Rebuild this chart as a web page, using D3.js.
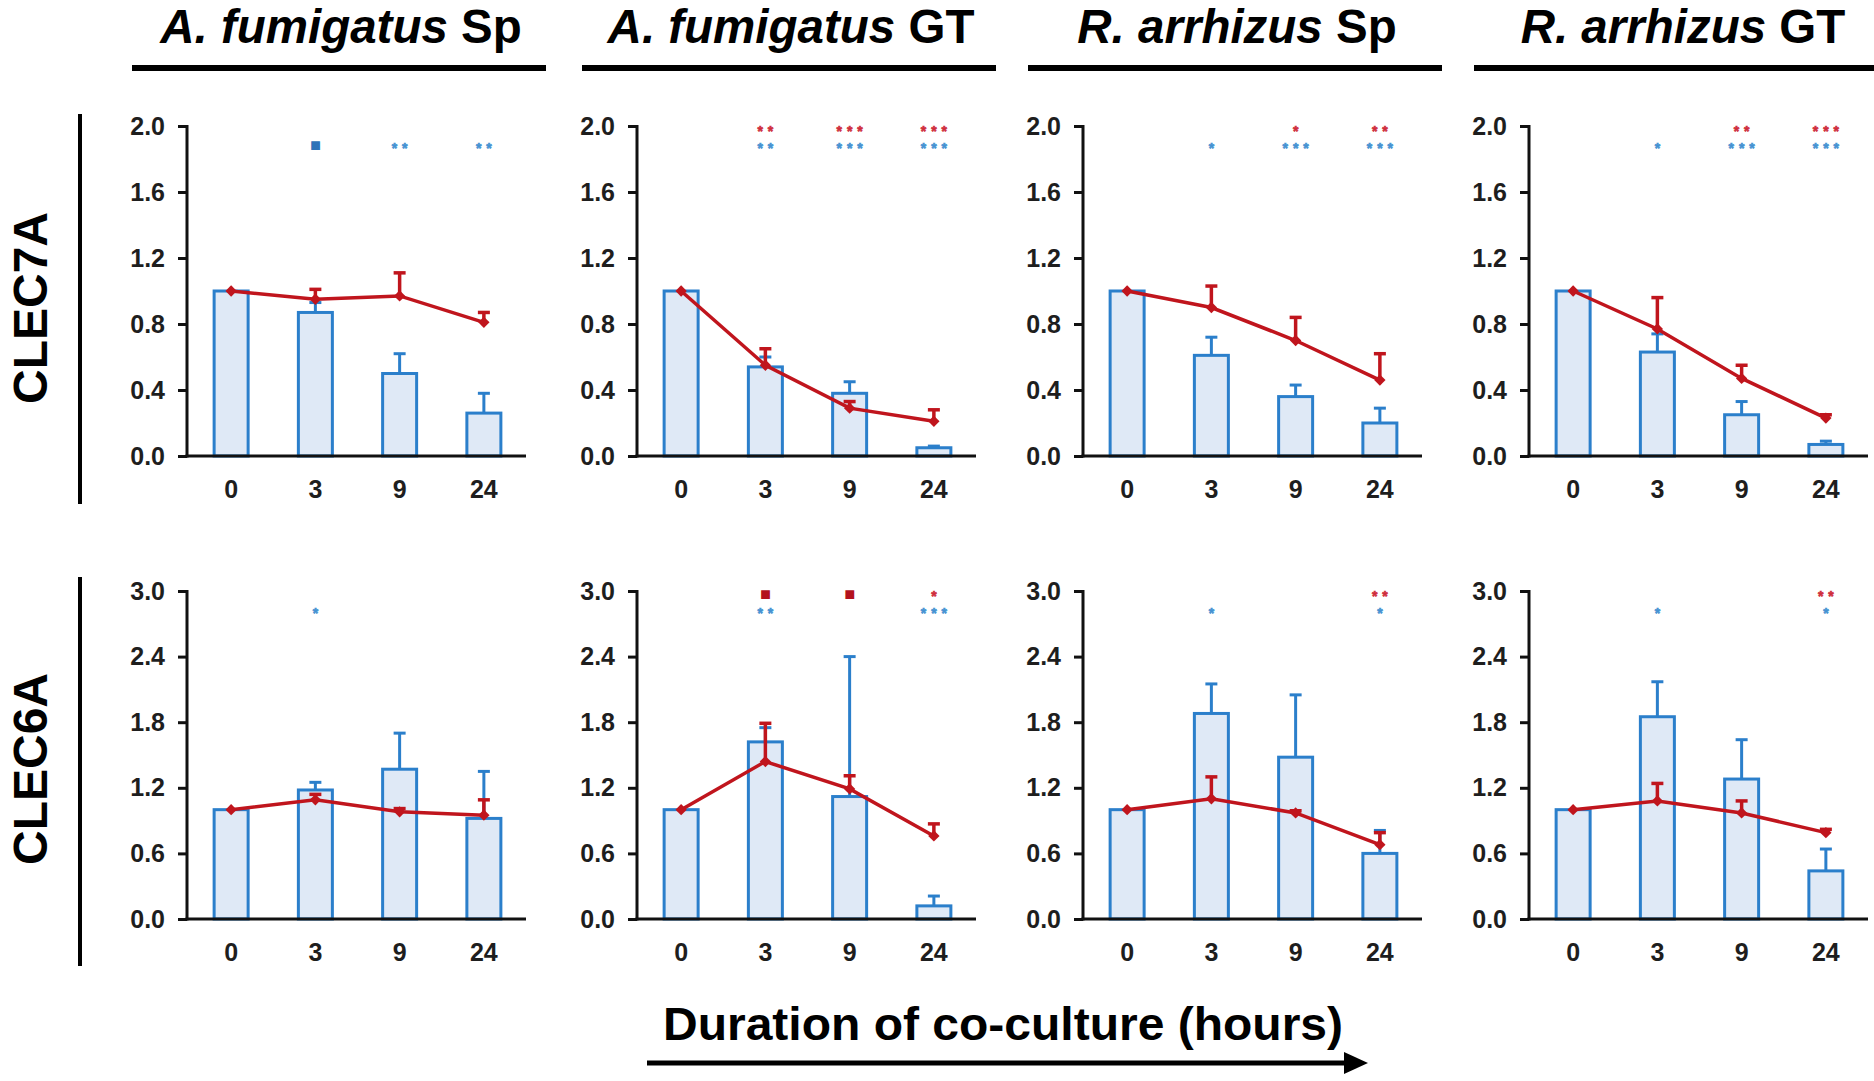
<!DOCTYPE html>
<html>
<head>
<meta charset="utf-8">
<script src="https://cdn.jsdelivr.net/npm/d3@7"></script>
<style>
  html, body { margin: 0; padding: 0; background: #fff; }
  svg { display: block; }
  text { font-family: "Liberation Sans", Arial, Helvetica, sans-serif; }
</style>
</head>
<body>
<svg id="chart" width="1874" height="1081"></svg>
<script>
// ---------------- DATA ----------------
const timepoints = ["0", "3", "9", "24"];
const speciesNames = ["A. fumigatus", "A. fumigatus", "R. arrhizus", "R. arrhizus"];
const stageNames = ["Sp", "GT", "Sp", "GT"];
const genes = ["CLEC7A", "CLEC6A"];
const xAxisTitle = "Duration of co-culture (hours)";

const yTicksCLEC7A = [0, 0.4, 0.8, 1.2, 1.6, 2.0];
const yTicksCLEC6A = [0, 0.6, 1.2, 1.8, 2.4, 3.0];
const yMaxCLEC7A = 2.0;
const yMaxCLEC6A = 3.0;

// bars (blue) : mean and upper error bar end, per column
const barMeanCLEC7A = [
  [1.00, 0.87, 0.50, 0.26],
  [1.00, 0.54, 0.38, 0.05],
  [1.00, 0.61, 0.36, 0.20],
  [1.00, 0.63, 0.25, 0.07]
];
const barErrCLEC7A = [
  [1.00, 0.93, 0.62, 0.38],
  [1.00, 0.60, 0.45, 0.06],
  [1.00, 0.72, 0.43, 0.29],
  [1.00, 0.74, 0.33, 0.09]
];
// line (red) : mean and upper error bar end
const lineMeanCLEC7A = [
  [1.00, 0.95, 0.97, 0.81],
  [1.00, 0.55, 0.29, 0.21],
  [1.00, 0.90, 0.70, 0.46],
  [1.00, 0.77, 0.47, 0.23]
];
const lineErrCLEC7A = [
  [1.00, 1.01, 1.11, 0.87],
  [1.00, 0.65, 0.33, 0.28],
  [1.00, 1.03, 0.84, 0.62],
  [1.00, 0.96, 0.55, 0.25]
];

const barMeanCLEC6A = [
  [1.00, 1.18, 1.37, 0.92],
  [1.00, 1.62, 1.12, 0.12],
  [1.00, 1.88, 1.48, 0.60],
  [1.00, 1.85, 1.28, 0.44]
];
const barErrCLEC6A = [
  [1.00, 1.25, 1.70, 1.35],
  [1.00, 1.75, 2.40, 0.21],
  [1.00, 2.15, 2.05, 0.81],
  [1.00, 2.17, 1.64, 0.64]
];
const lineMeanCLEC6A = [
  [1.00, 1.09, 0.98, 0.95],
  [1.00, 1.44, 1.19, 0.76],
  [1.00, 1.10, 0.97, 0.68],
  [1.00, 1.08, 0.97, 0.79]
];
const lineErrCLEC6A = [
  [1.00, 1.14, 1.01, 1.09],
  [1.00, 1.79, 1.31, 0.87],
  [1.00, 1.30, 0.99, 0.79],
  [1.00, 1.24, 1.08, 0.82]
];

// significance marks (red = line series, blue = bar series)
const redMarksCLEC7A = [
  ["", "", "", ""],
  ["", "**", "***", "***"],
  ["", "", "*", "**"],
  ["", "", "**", "***"]
];
const blueMarksCLEC7A = [
  ["", "■", "**", "**"],
  ["", "**", "***", "***"],
  ["", "*", "***", "***"],
  ["", "*", "***", "***"]
];
const redMarksCLEC6A = [
  ["", "", "", ""],
  ["", "■", "■", "*"],
  ["", "", "", "**"],
  ["", "", "", "**"]
];
const blueMarksCLEC6A = [
  ["", "*", "", ""],
  ["", "**", "", "***"],
  ["", "*", "", "*"],
  ["", "*", "", "*"]
];

// ---------------- LAYOUT ----------------
const svg = d3.select("#chart");
const panelX0 = [187, 637, 1083, 1529];
const rowTop = [126, 591];
const rowBottom = [456, 919];
const plotW = 339;

const BLUE = "#2b7fcb";
const BLUE_FILL = "#dfe9f6";
const BLUE_STAR = "#4592d2";
const RED = "#c0151d";
const RED_STAR = "#cf2d3c";
const AXIS = "#111";
const FONT = "'Liberation Sans', Arial, sans-serif";
const STAR_FONT = "'DejaVu Sans', sans-serif";

const rows = [
  { gene: genes[0], ticks: yTicksCLEC7A, max: yMaxCLEC7A, barMean: barMeanCLEC7A, barErr: barErrCLEC7A,
    lineMean: lineMeanCLEC7A, lineErr: lineErrCLEC7A, red: redMarksCLEC7A, blue: blueMarksCLEC7A },
  { gene: genes[1], ticks: yTicksCLEC6A, max: yMaxCLEC6A, barMean: barMeanCLEC6A, barErr: barErrCLEC6A,
    lineMean: lineMeanCLEC6A, lineErr: lineErrCLEC6A, red: redMarksCLEC6A, blue: blueMarksCLEC6A }
];

// column titles and underlines
panelX0.forEach((x0, c) => {
  const t = svg.append("text")
    .attr("x", x0 + 154).attr("y", 43)
    .attr("text-anchor", "middle")
    .attr("font-size", 47.5).attr("font-weight", "bold").attr("fill", "#000");
  t.append("tspan").attr("font-style", "italic").text(speciesNames[c]);
  t.append("tspan").text(" " + stageNames[c]);
  svg.append("line")
    .attr("x1", x0 - 55).attr("x2", Math.min(x0 + 359, 1874))
    .attr("y1", 68).attr("y2", 68)
    .attr("stroke", "#000").attr("stroke-width", 6);
});

// row labels & vertical bars
const rowLabelY = [308, 769];
const rowBarY = [[114, 504], [577, 966]];
rows.forEach((r, ri) => {
  svg.append("text")
    .attr("transform", `translate(47,${rowLabelY[ri]}) rotate(-90)`)
    .attr("text-anchor", "middle")
    .attr("font-size", 48).attr("font-weight", "bold").attr("fill", "#000")
    .text(r.gene);
  svg.append("line")
    .attr("x1", 80).attr("x2", 80)
    .attr("y1", rowBarY[ri][0]).attr("y2", rowBarY[ri][1])
    .attr("stroke", "#000").attr("stroke-width", 4);
});

const diamond = d3.symbol().type(d3.symbolSquare).size(64);

rows.forEach((r, ri) => {
  const y = d3.scaleLinear().domain([0, r.max]).range([rowBottom[ri], rowTop[ri]]);
  panelX0.forEach((x0, c) => {
    const g = svg.append("g");
    const x = d3.scaleBand().domain(timepoints).range([x0 + 2, x0 + plotW]).paddingInner(0).paddingOuter(0);
    const cx = d => x(d) + x.bandwidth() / 2;
    const barW = 34;

    const bars = timepoints.map((t, i) => ({
      t, mean: r.barMean[c][i], err: r.barErr[c][i],
      lmean: r.lineMean[c][i], lerr: r.lineErr[c][i],
      red: r.red[c][i], blue: r.blue[c][i]
    }));

    // bars
    g.selectAll("rect.bar").data(bars).enter().append("rect")
      .attr("class", "bar")
      .attr("x", d => cx(d.t) - barW / 2)
      .attr("width", barW)
      .attr("y", d => y(d.mean))
      .attr("height", d => y(0) - y(d.mean))
      .attr("fill", BLUE_FILL).attr("stroke", BLUE).attr("stroke-width", 3);

    // blue error bars
    const be = bars.filter(d => d.err > d.mean);
    g.selectAll("line.be").data(be).enter().append("line")
      .attr("x1", d => cx(d.t)).attr("x2", d => cx(d.t))
      .attr("y1", d => y(d.mean)).attr("y2", d => y(d.err))
      .attr("stroke", BLUE).attr("stroke-width", 3);
    g.selectAll("line.bc").data(be).enter().append("line")
      .attr("x1", d => cx(d.t) - 6).attr("x2", d => cx(d.t) + 6)
      .attr("y1", d => y(d.err)).attr("y2", d => y(d.err))
      .attr("stroke", BLUE).attr("stroke-width", 3);

    // axes
    const yAxis = d3.axisLeft(y).tickValues(r.ticks).tickSize(9).tickSizeOuter(0).tickPadding(13)
      .tickFormat(d3.format(".1f"));
    const ya = g.append("g").attr("transform", `translate(${x0},0)`).call(yAxis);
    ya.select(".domain").attr("stroke", AXIS).attr("stroke-width", 3)
      .attr("d", `M0,${y(r.max) - 1}V${y(0) + 1.5}`);
    ya.selectAll(".tick line").attr("stroke", AXIS).attr("stroke-width", 3);
    ya.selectAll(".tick text").attr("font-size", 25).attr("font-weight", "bold")
      .attr("fill", "#1e1e1e").attr("font-family", FONT);

    const xAxis = d3.axisBottom(x).tickSize(0).tickPadding(24);
    const xa = g.append("g").attr("transform", `translate(0,${y(0)})`).call(xAxis);
    xa.select(".domain").attr("stroke", AXIS).attr("stroke-width", 3)
      .attr("d", `M${x0 - 1.5},0H${x0 + plotW}`);
    xa.selectAll(".tick text").attr("font-size", 25).attr("font-weight", "bold")
      .attr("fill", "#1e1e1e").attr("font-family", FONT);

    // red line
    const line = d3.line().x(d => cx(d.t)).y(d => y(d.lmean));
    g.append("path").datum(bars).attr("d", line)
      .attr("fill", "none").attr("stroke", RED).attr("stroke-width", 3.5);
    const re = bars.filter(d => d.lerr > d.lmean);
    g.selectAll("line.re").data(re).enter().append("line")
      .attr("x1", d => cx(d.t)).attr("x2", d => cx(d.t))
      .attr("y1", d => y(d.lmean)).attr("y2", d => y(d.lerr))
      .attr("stroke", RED).attr("stroke-width", 3.5);
    g.selectAll("line.rc").data(re).enter().append("line")
      .attr("x1", d => cx(d.t) - 6).attr("x2", d => cx(d.t) + 6)
      .attr("y1", d => y(d.lerr)).attr("y2", d => y(d.lerr))
      .attr("stroke", RED).attr("stroke-width", 3.5);
    g.selectAll("path.pt").data(bars).enter().append("path")
      .attr("d", diamond)
      .attr("transform", d => `translate(${cx(d.t)},${y(d.lmean)}) rotate(45)`)
      .attr("fill", RED);

    // significance marks (red row above blue row)
    const markRows = [
      { key: "red", col: RED_STAR, sq: "#b3121d", center: rowTop[ri] + 2.5 },
      { key: "blue", col: BLUE_STAR, sq: "#2f72b8", center: rowTop[ri] + 19 }
    ];
    markRows.forEach(m => {
      g.selectAll("text.m" + m.key).data(bars.filter(d => d[m.key] !== "")).enter().append("text")
        .attr("class", "m" + m.key)
        .attr("x", d => cx(d.t) + (d[m.key] === "■" ? 0 : 2.5))
        .attr("y", d => m.center + (d[m.key] === "■" ? 5 : 7.8))
        .attr("text-anchor", "middle")
        .attr("font-family", STAR_FONT)
        .attr("font-weight", "bold")
        .attr("font-size", 14)
        .attr("letter-spacing", d => d[m.key] === "■" ? 0 : 5)
        .attr("fill", d => d[m.key] === "■" ? m.sq : m.col)
        .attr("stroke", d => d[m.key] === "■" ? m.sq : m.col)
        .attr("stroke-width", d => d[m.key] === "■" ? 2 : 0.6)
        .text(d => d[m.key]);
    });
  });
});

// bottom axis title and arrow
svg.append("text")
  .attr("x", 1003).attr("y", 1040)
  .attr("text-anchor", "middle")
  .attr("font-size", 46).attr("font-weight", "bold").attr("fill", "#000")
  .attr("textLength", 680).attr("lengthAdjust", "spacingAndGlyphs")
  .text(xAxisTitle);
svg.append("line")
  .attr("x1", 647).attr("x2", 1346).attr("y1", 1063).attr("y2", 1063)
  .attr("stroke", "#000").attr("stroke-width", 5);
svg.append("path")
  .attr("d", "M1368,1063 L1344,1052 L1344,1074 Z")
  .attr("fill", "#000");
</script>
</body>
</html>
